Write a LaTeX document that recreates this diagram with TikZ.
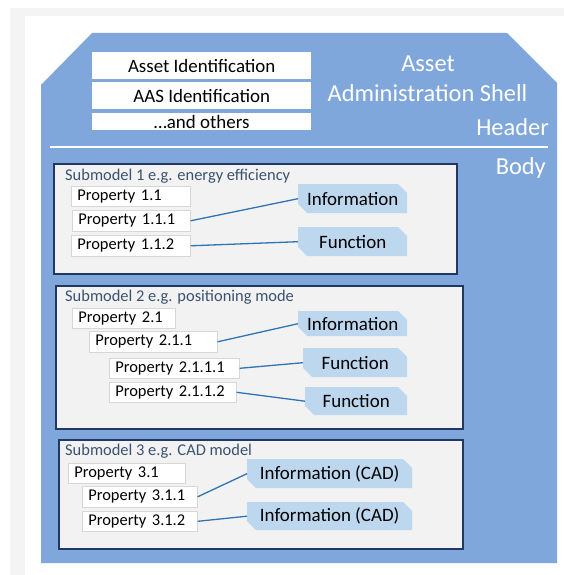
\documentclass[tikz,border=0pt]{standalone}
\usepackage{fontspec}
\setmainfont{Carlito}
\definecolor{shellblue}{RGB}{127,167,219}
\definecolor{subfill}{RGB}{242,242,242}
\definecolor{subborder}{RGB}{31,56,100}
\definecolor{tagfill}{RGB}{189,215,238}
\definecolor{linkblue}{RGB}{46,117,182}
\definecolor{titlecol}{RGB}{59,82,112}
\definecolor{framegray}{RGB}{244,244,244}
\definecolor{propborder}{RGB}{215,215,215}
\tikzset{
  hbox/.style={fill=white, inner sep=0, anchor=north west, minimum width=219bp, minimum height=#1, font=\fontsize{19}{20}\selectfont},
  bigtext/.style={text=white, inner sep=0, font=\fontsize{24.5}{26}\selectfont},
  submodel/.style={fill=subfill, draw=subborder, line width=2bp, inner sep=0, anchor=north west},
  subtitle/.style={text=titlecol, inner sep=0, anchor=base west, font=\fontsize{16.5}{18}\selectfont},
  prop/.style={fill=white, draw=propborder, line width=0.6bp, inner xsep=6bp, inner ysep=0, anchor=north west, align=left, text width=#1, font=\fontsize{16.5}{18}\selectfont},
  tagbox/.style={inner sep=0, anchor=north west, font=\fontsize{19}{20}\selectfont,
    path picture={\fill[tagfill] (path picture bounding box.north west)
      -- ([xshift=-9bp]path picture bounding box.north east)
      -- ([yshift=-9bp]path picture bounding box.north east)
      -- (path picture bounding box.south east)
      -- ([xshift=9bp]path picture bounding box.south west)
      -- ([yshift=9bp]path picture bounding box.south west) -- cycle;}},
  link/.style={draw=linkblue, line width=1.3bp}
}
\begin{document}
\begin{tikzpicture}[x=1bp,y=-1bp]
\useasboundingbox (0,0) rectangle (564,575);
\fill[white] (0,0) rectangle (564,575);
\fill[framegray] (10,8) rectangle (564,575);
\fill[white] (25,16) rectangle (564,575);
% shell
\fill[shellblue] (92,33) -- (507,33) -- (557,83) -- (557,563) -- (41,563) -- (41,85) -- cycle;
\draw[white, line width=1.5bp] (50,147) -- (548,147);
% header boxes
\node[hbox=27bp] (h1) at (92,52) {Asset Identification};
\node[hbox=27bp] (h2) at (92,82) {AAS Identification};
\node[hbox=17bp] (h3) at (92,113) {…and others};
\node[bigtext, anchor=base] (t1) at (428,72) {Asset};
\node[bigtext, anchor=base] (t2) at (427.5,102) {Administration Shell};
\node[bigtext, anchor=base east] (t3) at (549,136) {Header};
\node[bigtext, anchor=base east] (t4) at (546,174) {Body};
% submodel 1
\node[submodel, minimum width=403bp, minimum height=110bp] (s1) at (53,163) {};
\node[subtitle] (s1t) at (65,180) {Submodel 1 e.g. energy efficiency};
\node[prop=107bp, minimum height=20bp] (p11) at (71,186) {Property 1.1};
\node[prop=106bp, minimum height=21bp] (p111) at (72,210) {Property 1.1.1};
\node[prop=107bp, minimum height=21bp] (p112) at (71,235) {Property 1.1.2};
\node[tagbox, minimum width=109bp, minimum height=29bp] (i1) at (298,184) {Information};
\node[tagbox, minimum width=109bp, minimum height=29bp] (f1) at (298,227) {Function};
\draw[link] (p111.east) -- (i1.west);
\draw[link] (p112.east) -- (f1.west);
% submodel 2
\node[submodel, minimum width=407bp, minimum height=143bp] (s2) at (55,285) {};
\node[subtitle] (s2t) at (65,301) {Submodel 2 e.g. positioning mode};
\node[prop=91bp, minimum height=20bp] (p21) at (72,308) {Property 2.1};
\node[prop=116bp, minimum height=21bp] (p211) at (89,331) {Property 2.1.1};
\node[prop=118bp, minimum height=20bp] (p2111) at (109,358) {Property 2.1.1.1};
\node[prop=115bp, minimum height=20bp] (p2112) at (109,382) {Property 2.1.1.2};
\node[tagbox, minimum width=109bp, minimum height=25bp] (i2) at (298,311) {Information};
\node[tagbox, minimum width=104bp, minimum height=29bp] (f21) at (303,348) {Function};
\node[tagbox, minimum width=102bp, minimum height=28bp] (f22) at (305,387) {Function};
\draw[link] (p211.east) -- (i2.west);
\draw[link] (p2111.east) -- (f21.west);
\draw[link] (p2112.east) -- (f22.west);
% submodel 3
\node[submodel, minimum width=404bp, minimum height=109bp] (s3) at (58,439) {};
\node[subtitle] (s3t) at (65,455) {Submodel 3 e.g. CAD model};
\node[prop=105bp, minimum height=20bp] (p31) at (68,463) {Property 3.1};
\node[prop=103bp, minimum height=21bp] (p311) at (82,486) {Property 3.1.1};
\node[prop=103bp, minimum height=20bp] (p312) at (82,511) {Property 3.1.2};
\node[tagbox, minimum width=165bp, minimum height=29bp] (c1) at (247,459) {Information (CAD)};
\node[tagbox, minimum width=165bp, minimum height=28bp] (c2) at (247,502) {Information (CAD)};
\draw[link] (p311.east) -- (c1.west);
\draw[link] (p312.east) -- (c2.west);
\end{tikzpicture}
\end{document}
